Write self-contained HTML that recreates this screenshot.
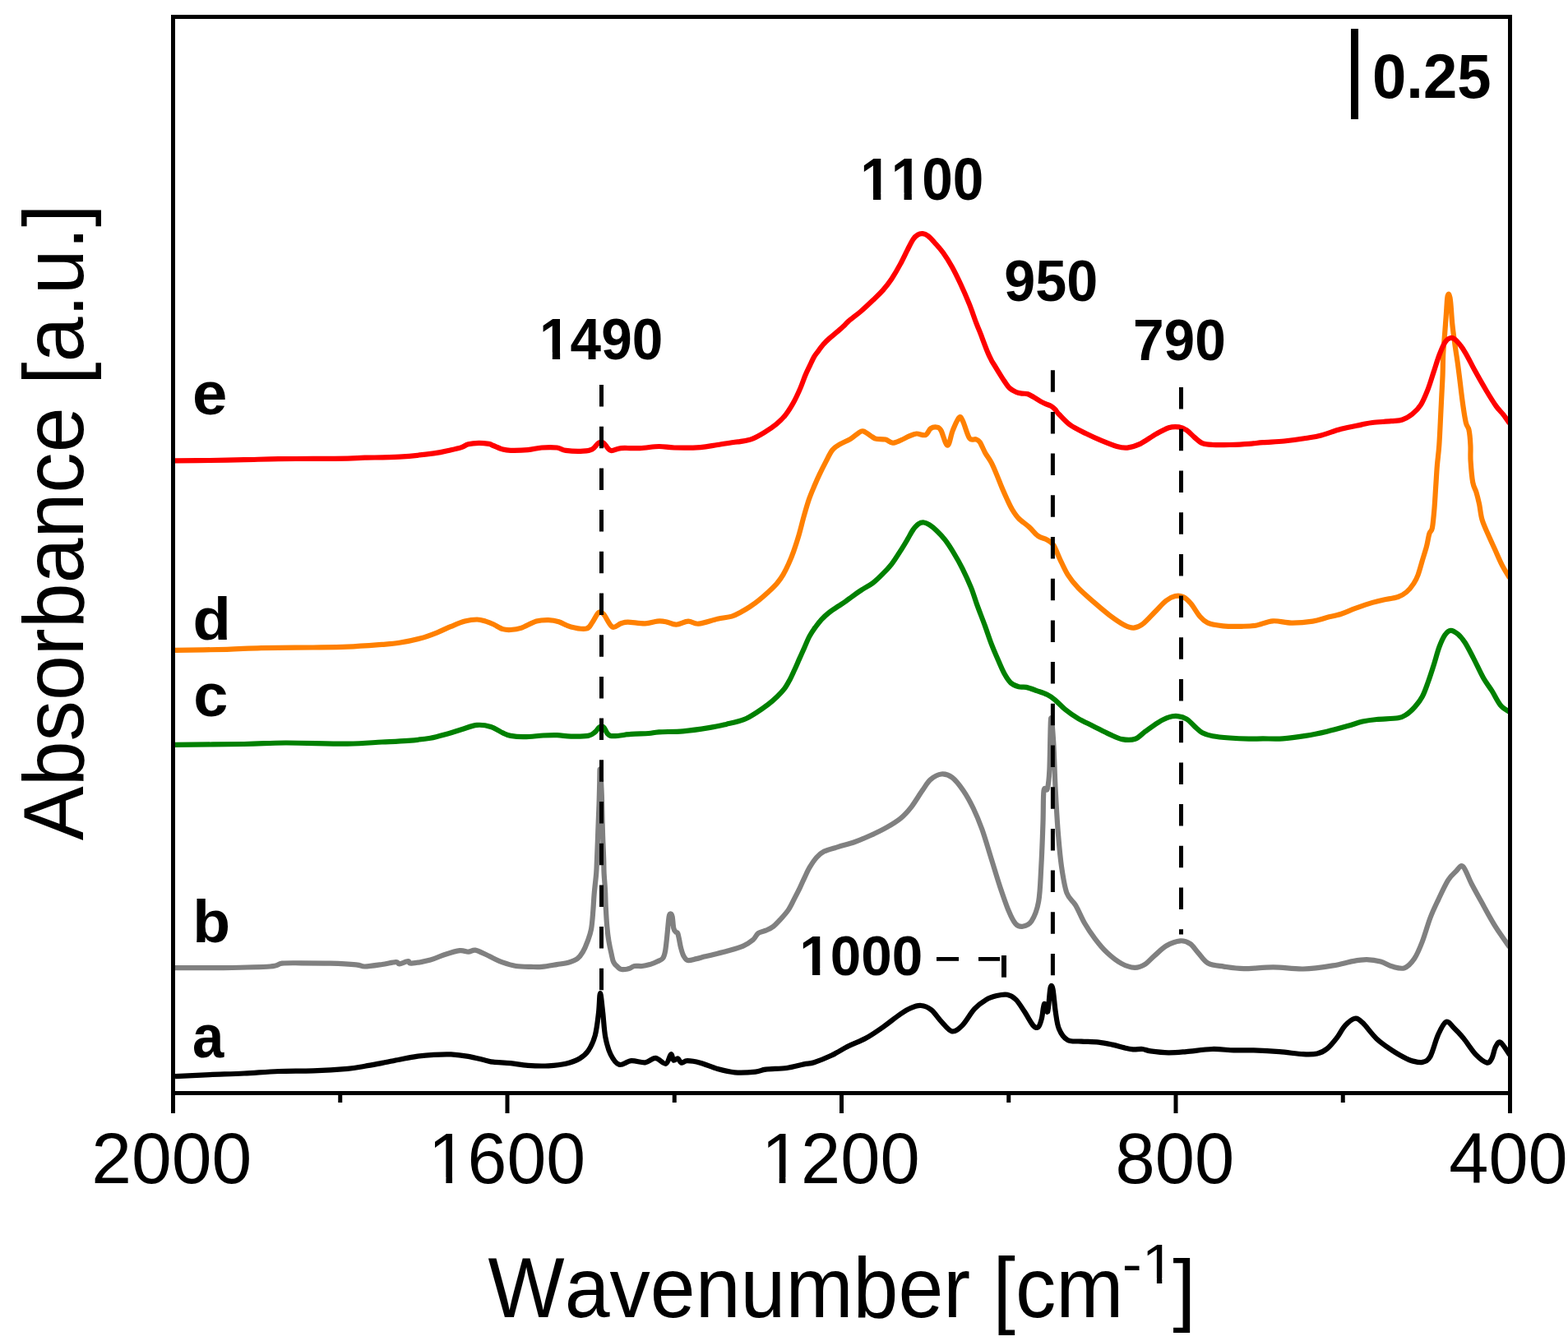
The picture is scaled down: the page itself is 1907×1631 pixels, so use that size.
<!DOCTYPE html><html><head><meta charset="utf-8"><title>Absorbance spectra</title><style>html,body{margin:0;padding:0;background:#fff;overflow:hidden}svg{display:block}text{font-family:"Liberation Sans",Arial,sans-serif;fill:#000;font-kerning:none}</style></head><body>
<svg width="1907" height="1631" viewBox="0 0 1907 1631">
<rect width="1907" height="1631" fill="#fff"/>
<defs><clipPath id="pa"><rect x="210.5" y="20.5" width="1626" height="1309"/></clipPath></defs>
<g clip-path="url(#pa)" fill="none" stroke-width="6.2" stroke-linejoin="round" stroke-linecap="butt">
<path d="M213.0,1309.2 C220.0,1308.8 241.0,1307.7 255.0,1307.1 C269.0,1306.5 282.9,1306.2 296.9,1305.5 C310.9,1304.8 324.9,1303.5 338.9,1303.0 C352.9,1302.5 366.8,1302.8 380.8,1302.3 C394.8,1301.8 412.3,1300.7 422.8,1299.8 C433.3,1298.9 436.7,1297.8 443.7,1296.7 C450.7,1295.6 457.7,1294.2 464.7,1292.9 C471.7,1291.6 478.7,1290.0 485.7,1288.7 C492.7,1287.4 499.7,1285.9 506.7,1284.9 C513.7,1283.9 520.6,1283.2 527.6,1282.8 C534.6,1282.4 541.6,1282.1 548.6,1282.4 C555.6,1282.8 562.6,1283.7 569.6,1284.9 C576.6,1286.1 585.5,1288.6 590.6,1289.7 C595.7,1290.8 594.9,1291.1 600.0,1291.7 C605.1,1292.3 614.0,1292.5 621.0,1293.2 C628.0,1293.9 634.3,1295.4 642.0,1295.9 C649.7,1296.4 659.4,1296.7 667.1,1296.3 C674.8,1295.9 681.8,1295.3 688.1,1293.8 C694.4,1292.3 700.4,1290.1 704.9,1287.5 C709.4,1284.9 712.2,1282.8 715.4,1278.1 C718.5,1273.4 721.7,1266.9 723.8,1259.2 C725.9,1251.5 727.0,1240.4 728.0,1231.9 C729.0,1223.4 729.1,1208.0 730.0,1208.0 C730.9,1208.0 732.2,1223.0 733.2,1231.9 C734.2,1240.8 734.7,1252.9 736.3,1261.3 C737.9,1269.7 739.8,1276.7 742.6,1282.3 C745.4,1287.9 748.9,1293.5 753.1,1294.8 C757.3,1296.1 762.5,1290.6 767.8,1290.2 C773.0,1289.8 779.7,1292.8 784.6,1292.3 C789.5,1291.8 793.0,1286.7 797.2,1286.9 C801.4,1287.2 806.7,1294.6 809.8,1293.8 C812.9,1293.0 814.4,1283.0 816.0,1282.3 C817.6,1281.6 817.8,1288.7 819.2,1289.6 C820.6,1290.5 822.8,1287.0 824.4,1287.5 C826.0,1288.0 826.7,1292.2 828.6,1292.7 C830.5,1293.2 832.1,1290.2 836.0,1290.2 C839.9,1290.2 845.6,1291.1 851.7,1292.7 C857.8,1294.3 865.7,1298.2 872.7,1300.1 C879.7,1302.0 886.0,1303.7 893.7,1304.3 C901.4,1304.9 912.5,1304.2 918.8,1303.6 C925.1,1303.0 925.1,1301.5 931.4,1300.7 C937.7,1299.9 948.9,1300.0 956.6,1299.0 C964.3,1298.0 972.0,1295.5 977.6,1294.4 C983.2,1293.3 984.4,1294.0 990.0,1292.2 C995.6,1290.4 1004.0,1287.1 1011.0,1283.8 C1018.0,1280.5 1025.0,1275.8 1032.0,1272.3 C1039.0,1268.8 1045.9,1266.6 1052.9,1262.8 C1059.9,1259.0 1066.9,1254.1 1073.9,1249.2 C1080.9,1244.3 1089.3,1237.3 1094.9,1233.5 C1100.5,1229.7 1103.3,1227.8 1107.5,1226.1 C1111.7,1224.3 1115.8,1222.7 1120.0,1223.0 C1124.2,1223.3 1128.4,1224.9 1132.6,1228.2 C1136.8,1231.5 1141.0,1238.5 1145.2,1242.9 C1149.4,1247.3 1153.6,1253.7 1157.8,1254.4 C1162.0,1255.1 1165.9,1251.6 1170.4,1247.1 C1175.0,1242.6 1180.2,1232.5 1185.1,1227.2 C1190.0,1222.0 1195.3,1218.3 1199.8,1215.6 C1204.3,1212.9 1208.1,1212.0 1212.3,1211.0 C1216.5,1210.0 1221.1,1209.0 1224.9,1209.8 C1228.8,1210.6 1231.9,1212.2 1235.4,1215.6 C1238.9,1219.0 1242.4,1225.0 1245.9,1230.3 C1249.4,1235.5 1253.6,1243.9 1256.4,1247.1 C1259.2,1250.2 1261.0,1250.6 1262.7,1249.2 C1264.5,1247.8 1265.7,1243.4 1266.9,1238.7 C1268.1,1234.0 1268.8,1222.3 1270.0,1220.9 C1271.2,1219.5 1273.0,1233.5 1274.2,1230.3 C1275.4,1227.1 1276.4,1206.5 1277.4,1202.0 C1278.5,1197.5 1279.5,1198.4 1280.5,1203.1 C1281.5,1207.8 1282.5,1222.3 1283.7,1230.3 C1284.9,1238.3 1285.5,1245.5 1287.9,1251.3 C1290.3,1257.1 1293.8,1262.4 1298.3,1264.9 C1302.8,1267.5 1308.8,1266.1 1315.1,1266.6 C1321.4,1267.0 1329.8,1266.9 1336.1,1267.6 C1342.4,1268.3 1347.7,1269.5 1352.9,1270.6 C1358.2,1271.7 1363.4,1273.5 1367.6,1274.4 C1371.8,1275.4 1374.3,1276.0 1378.0,1276.3 C1381.7,1276.6 1386.0,1275.7 1389.6,1276.0 C1393.1,1276.3 1394.1,1277.7 1399.3,1278.4 C1404.5,1279.1 1413.8,1280.2 1421.0,1280.3 C1428.2,1280.4 1433.9,1279.8 1442.7,1279.1 C1451.5,1278.4 1464.4,1276.3 1474.1,1276.0 C1483.8,1275.7 1492.2,1277.2 1500.6,1277.4 C1509.0,1277.6 1515.5,1277.1 1524.7,1277.4 C1534.0,1277.7 1546.0,1278.3 1556.1,1279.1 C1566.1,1279.9 1577.4,1281.8 1585.0,1282.2 C1592.6,1282.6 1597.1,1282.6 1601.9,1281.5 C1606.7,1280.4 1610.0,1278.7 1614.0,1275.5 C1618.0,1272.3 1622.4,1266.8 1626.0,1262.2 C1629.6,1257.6 1632.1,1251.6 1635.7,1247.7 C1639.3,1243.8 1644.1,1239.4 1647.7,1238.8 C1651.3,1238.2 1653.0,1240.0 1657.4,1244.1 C1661.8,1248.2 1668.3,1257.8 1674.3,1263.4 C1680.3,1269.0 1687.6,1273.9 1693.6,1277.9 C1699.6,1281.9 1706.4,1285.5 1710.4,1287.6 C1714.4,1289.7 1714.5,1289.7 1717.7,1290.4 C1720.9,1291.1 1726.1,1292.8 1729.7,1291.9 C1733.3,1291.0 1736.2,1290.6 1739.4,1285.1 C1742.6,1279.5 1745.8,1265.6 1749.0,1258.6 C1752.2,1251.6 1755.5,1244.3 1758.7,1242.9 C1761.9,1241.5 1764.7,1246.8 1768.3,1250.2 C1771.9,1253.6 1776.0,1258.0 1780.4,1263.4 C1784.8,1268.8 1790.3,1277.9 1794.9,1282.7 C1799.5,1287.5 1804.9,1291.6 1808.1,1292.4 C1811.3,1293.2 1812.4,1290.8 1814.2,1287.6 C1816.0,1284.4 1817.2,1276.4 1819.0,1273.1 C1820.8,1269.8 1822.2,1266.1 1825.0,1267.8 C1827.8,1269.5 1834.2,1280.5 1836.0,1283.0" stroke="#000"/>
<path d="M213.0,1177.1 C222.4,1177.1 250.4,1177.4 269.6,1177.1 C288.8,1176.8 316.2,1176.4 328.4,1175.5 C340.6,1174.6 336.7,1172.4 343.0,1171.7 C349.3,1171.0 356.3,1171.3 366.1,1171.3 C375.9,1171.3 390.6,1171.3 401.8,1171.7 C413.0,1172.1 426.2,1172.8 433.2,1173.4 C440.2,1174.0 438.4,1175.6 443.7,1175.5 C448.9,1175.4 458.4,1173.9 464.7,1173.0 C471.0,1172.1 478.0,1170.3 481.5,1170.2 C485.0,1170.1 483.2,1172.5 485.7,1172.3 C488.1,1172.1 493.8,1169.3 496.2,1169.2 C498.6,1169.1 495.9,1172.0 500.4,1171.7 C504.9,1171.4 516.8,1169.2 523.4,1167.5 C530.0,1165.8 534.2,1163.1 540.2,1161.2 C546.2,1159.3 554.2,1156.8 559.1,1156.2 C564.0,1155.6 566.5,1157.8 569.6,1157.7 C572.8,1157.6 574.5,1155.1 578.0,1155.6 C581.5,1156.1 586.9,1159.1 590.6,1160.8 C594.3,1162.5 596.6,1163.9 600.0,1165.5 C603.4,1167.1 606.4,1168.8 611.0,1170.4 C615.6,1172.0 621.8,1174.1 627.6,1175.0 C633.4,1175.9 640.8,1175.8 646.0,1175.9 C651.2,1176.1 653.7,1176.4 658.9,1175.9 C664.1,1175.4 671.7,1174.0 677.2,1173.1 C682.7,1172.2 687.8,1171.6 692.0,1170.4 C696.2,1169.2 699.4,1168.1 702.2,1166.0 C705.0,1163.9 706.7,1161.5 708.8,1157.9 C710.9,1154.3 713.0,1149.3 714.7,1144.6 C716.4,1139.9 718.0,1136.0 719.1,1129.9 C720.2,1123.8 720.7,1115.2 721.3,1107.8 C721.9,1100.4 722.1,1093.4 722.8,1085.8 C723.4,1078.2 724.7,1068.8 725.2,1062.0 C725.7,1055.2 725.6,1053.7 726.0,1045.2 C726.4,1036.7 726.9,1022.2 727.3,1010.8 C727.7,999.3 728.3,986.6 728.6,976.5 C728.9,966.4 729.1,956.8 729.3,950.0 C729.5,943.2 729.4,937.5 729.6,936.0 C729.8,934.5 730.3,937.0 730.6,941.0 C730.9,945.0 731.2,954.1 731.5,960.0 C731.8,965.9 731.9,968.0 732.1,976.5 C732.3,985.0 732.5,999.3 732.9,1010.8 C733.2,1022.2 733.9,1036.7 734.2,1045.2 C734.5,1053.7 734.3,1055.8 734.6,1062.0 C734.9,1068.2 735.6,1075.1 736.0,1082.1 C736.4,1089.1 736.4,1096.8 736.8,1104.2 C737.2,1111.6 737.6,1119.5 738.2,1126.2 C738.8,1132.9 739.5,1139.1 740.4,1144.6 C741.3,1150.1 742.4,1155.0 743.4,1159.3 C744.4,1163.6 744.9,1167.6 746.3,1170.4 C747.6,1173.2 749.9,1174.9 751.5,1176.3 C753.1,1177.7 753.4,1178.7 755.7,1179.0 C758.0,1179.3 762.6,1178.8 765.2,1178.1 C767.8,1177.4 768.9,1175.5 771.5,1175.0 C774.1,1174.5 777.8,1175.3 780.9,1175.0 C784.0,1174.7 787.1,1174.0 790.3,1173.1 C793.4,1172.1 797.2,1170.6 799.8,1169.3 C802.4,1168.0 804.5,1167.7 806.1,1165.5 C807.7,1163.3 808.3,1161.3 809.2,1156.1 C810.1,1150.9 811.0,1140.9 811.7,1134.1 C812.4,1127.3 813.0,1119.0 813.6,1115.2 C814.2,1111.4 814.8,1111.4 815.5,1111.4 C816.2,1111.4 817.1,1112.3 817.7,1115.2 C818.3,1118.1 818.6,1126.0 819.3,1129.0 C820.0,1132.0 821.0,1132.4 821.8,1133.4 C822.6,1134.5 823.6,1133.6 824.3,1135.3 C825.0,1137.0 825.6,1140.6 826.2,1143.5 C826.8,1146.4 827.2,1149.8 828.1,1152.9 C829.0,1156.1 829.9,1159.9 831.3,1162.4 C832.7,1164.9 833.7,1167.4 836.3,1168.0 C838.9,1168.6 843.6,1166.8 847.0,1166.1 C850.4,1165.4 853.1,1164.4 856.4,1163.6 C859.7,1162.8 861.9,1162.4 866.7,1161.2 C871.5,1160.0 878.9,1158.4 885.1,1156.6 C891.3,1154.8 898.7,1152.8 903.8,1150.6 C908.9,1148.4 912.6,1145.8 915.7,1143.2 C918.8,1140.6 919.6,1136.8 922.2,1134.9 C924.8,1133.0 928.3,1133.1 931.4,1131.7 C934.5,1130.3 937.5,1129.1 940.6,1126.7 C943.7,1124.3 946.7,1120.9 949.8,1117.5 C952.9,1114.1 956.2,1110.6 959.0,1106.4 C961.8,1102.2 964.0,1097.0 966.3,1092.6 C968.6,1088.2 970.8,1083.9 972.8,1079.8 C974.8,1075.7 976.3,1071.9 978.3,1067.8 C980.3,1063.7 982.2,1059.0 984.7,1054.9 C987.2,1050.8 990.1,1046.2 993.0,1043.0 C995.9,1039.8 997.9,1037.8 1002.2,1035.6 C1006.6,1033.4 1013.0,1032.0 1019.1,1030.1 C1025.2,1028.2 1032.4,1026.6 1039.0,1024.3 C1045.6,1021.9 1052.3,1019.0 1058.9,1016.0 C1065.5,1013.0 1072.6,1009.6 1078.7,1006.1 C1084.8,1002.6 1090.3,999.4 1095.3,995.3 C1100.3,991.2 1104.1,986.9 1108.5,981.3 C1112.9,975.6 1117.9,966.9 1121.8,961.4 C1125.7,955.9 1127.8,951.4 1131.7,948.1 C1135.6,944.8 1140.6,941.9 1145.0,941.5 C1149.4,941.1 1153.8,942.4 1158.2,945.7 C1162.6,949.0 1167.2,955.2 1171.5,961.4 C1175.8,967.6 1179.9,975.1 1183.7,983.0 C1187.5,990.9 1190.8,998.8 1194.4,1008.8 C1198.0,1018.8 1201.6,1031.6 1205.2,1043.1 C1208.8,1054.5 1212.3,1066.8 1215.9,1077.5 C1219.5,1088.2 1223.4,1099.8 1226.6,1107.5 C1229.8,1115.2 1232.3,1120.4 1235.2,1123.6 C1238.1,1126.8 1240.6,1127.3 1243.8,1126.8 C1247.0,1126.3 1251.3,1125.4 1254.5,1120.4 C1257.7,1115.4 1261.1,1107.9 1263.1,1096.8 C1265.1,1085.7 1265.4,1070.0 1266.3,1053.9 C1267.2,1037.8 1268.0,1015.6 1268.5,1000.2 C1269.0,984.8 1268.6,968.4 1269.5,961.6 C1270.4,954.8 1272.6,963.7 1273.8,959.4 C1275.0,955.1 1275.7,950.0 1276.4,935.8 C1277.1,921.6 1277.3,879.4 1278.1,874.0 C1278.9,868.6 1280.4,889.7 1281.3,903.6 C1282.2,917.5 1282.6,939.4 1283.5,957.3 C1284.4,975.2 1285.5,994.8 1286.7,1010.9 C1288.0,1027.0 1289.2,1041.4 1291.0,1053.9 C1292.8,1066.4 1294.5,1078.1 1297.4,1086.0 C1300.3,1093.9 1304.6,1095.0 1308.2,1101.1 C1311.8,1107.2 1315.0,1115.7 1318.9,1122.5 C1322.8,1129.3 1327.2,1135.7 1331.8,1141.8 C1336.4,1147.9 1341.4,1154.0 1346.8,1159.0 C1352.2,1164.0 1358.4,1168.9 1363.9,1171.9 C1369.4,1174.9 1375.3,1176.7 1380.0,1176.9 C1384.7,1177.1 1388.1,1175.6 1392.1,1173.2 C1396.1,1170.8 1399.7,1166.2 1404.1,1162.4 C1408.5,1158.6 1413.4,1153.3 1418.6,1150.3 C1423.8,1147.3 1430.7,1144.7 1435.5,1144.3 C1440.3,1143.9 1443.9,1145.5 1447.5,1147.9 C1451.1,1150.3 1453.6,1154.9 1457.2,1158.8 C1460.8,1162.7 1464.0,1168.7 1469.2,1171.5 C1474.4,1174.3 1481.2,1174.5 1488.5,1175.6 C1495.8,1176.7 1502.7,1178.0 1512.7,1178.1 C1522.8,1178.2 1536.8,1176.3 1548.8,1176.4 C1560.8,1176.5 1572.9,1178.8 1585.0,1178.5 C1597.1,1178.2 1611.2,1176.0 1621.2,1174.4 C1631.2,1172.8 1638.5,1170.3 1645.3,1169.1 C1652.1,1167.9 1656.6,1167.1 1662.2,1167.2 C1667.8,1167.3 1673.9,1168.2 1679.1,1169.6 C1684.3,1171.0 1688.8,1174.3 1693.6,1175.6 C1698.4,1176.9 1703.6,1178.9 1708.0,1177.3 C1712.4,1175.7 1716.5,1171.3 1720.1,1166.0 C1723.7,1160.7 1726.5,1153.8 1729.7,1145.5 C1732.9,1137.2 1736.2,1125.0 1739.4,1116.5 C1742.6,1108.0 1745.4,1102.4 1749.0,1094.8 C1752.6,1087.2 1757.5,1076.5 1761.1,1070.7 C1764.7,1064.9 1767.7,1062.6 1770.7,1059.8 C1773.7,1057.0 1776.0,1051.2 1779.2,1053.8 C1782.4,1056.4 1785.8,1067.5 1790.0,1075.5 C1794.2,1083.5 1799.7,1093.3 1804.5,1102.0 C1809.3,1110.7 1813.8,1119.1 1819.0,1127.4 C1824.2,1135.7 1833.2,1147.9 1836.0,1152.0" stroke="#808080"/>
<path d="M213.0,905.8 C227.0,905.7 274.5,905.4 296.9,905.0 C319.3,904.6 326.2,903.6 347.2,903.5 C368.2,903.4 403.2,904.8 422.8,904.6 C442.4,904.4 452.5,903.1 464.7,902.5 C476.9,901.9 486.4,901.6 496.2,900.8 C506.0,900.0 515.4,899.1 523.4,897.7 C531.4,896.3 538.1,894.1 544.4,892.4 C550.7,890.6 555.2,889.0 561.2,887.2 C567.2,885.5 574.2,882.4 580.1,881.9 C586.0,881.4 591.7,882.4 596.9,884.0 C602.1,885.6 607.5,889.6 611.5,891.4 C615.5,893.2 616.6,894.1 621.0,894.9 C625.4,895.7 631.2,896.3 637.8,896.2 C644.4,896.1 654.2,894.9 660.8,894.5 C667.4,894.1 672.0,893.9 677.6,894.1 C683.2,894.3 688.1,895.5 694.4,895.6 C700.7,895.7 710.5,895.8 715.4,894.9 C720.3,894.0 721.5,892.0 723.8,890.3 C726.1,888.5 727.3,885.4 729.0,884.4 C730.7,883.4 731.9,882.6 734.2,884.4 C736.5,886.1 737.0,893.5 742.6,894.9 C748.2,896.3 760.1,893.3 767.8,892.8 C775.5,892.3 783.2,892.4 788.8,892.0 C794.4,891.6 794.4,890.8 801.4,890.3 C808.4,889.8 820.6,890.2 830.7,889.3 C840.8,888.4 853.5,886.5 862.2,885.1 C871.0,883.7 876.1,882.5 883.2,880.9 C890.3,879.2 898.7,877.5 904.7,875.2 C910.7,872.9 914.5,870.2 919.4,867.1 C924.3,864.0 929.9,860.1 934.2,856.8 C938.5,853.5 941.9,850.5 945.2,847.3 C948.5,844.1 951.4,841.1 954.0,837.7 C956.6,834.3 958.5,830.6 960.6,826.7 C962.7,822.8 964.5,818.5 966.5,814.2 C968.5,809.9 970.4,805.3 972.4,800.9 C974.4,796.5 976.3,792.2 978.3,787.7 C980.3,783.2 982.3,778.0 984.5,773.9 C986.7,769.8 988.9,766.6 991.4,763.2 C993.9,759.8 996.3,756.4 999.2,753.3 C1002.1,750.2 1005.7,747.1 1009.0,744.5 C1012.3,741.9 1015.6,739.9 1018.9,737.7 C1022.2,735.5 1025.8,733.3 1028.7,731.3 C1031.6,729.2 1033.3,727.7 1036.5,725.4 C1039.7,723.1 1043.6,720.3 1047.7,717.6 C1051.8,714.9 1056.9,712.5 1061.3,709.2 C1065.7,705.9 1070.1,701.5 1073.9,697.6 C1077.8,693.8 1080.9,690.6 1084.4,686.1 C1087.9,681.6 1091.8,675.3 1094.9,670.4 C1098.1,665.5 1100.7,661.1 1103.3,656.7 C1105.9,652.3 1108.3,647.3 1110.6,644.1 C1112.9,640.9 1114.7,638.7 1116.9,637.3 C1119.1,635.9 1121.4,635.3 1123.7,635.5 C1126.0,635.7 1128.0,636.8 1130.5,638.4 C1133.0,640.0 1135.8,642.2 1138.9,645.2 C1142.1,648.2 1145.9,652.2 1149.4,656.7 C1152.9,661.2 1156.4,666.7 1159.9,672.5 C1163.4,678.3 1166.9,684.3 1170.4,691.3 C1173.9,698.3 1177.9,707.0 1180.9,714.4 C1183.9,721.8 1185.4,727.6 1188.2,735.4 C1191.0,743.2 1195.1,753.4 1198.0,761.4 C1200.9,769.4 1203.2,776.6 1205.8,783.4 C1208.4,790.2 1211.1,796.3 1213.7,802.3 C1216.3,808.3 1219.0,814.9 1221.6,819.6 C1224.2,824.3 1226.5,828.0 1229.4,830.6 C1232.3,833.2 1235.8,834.4 1238.9,835.3 C1242.1,836.2 1244.6,835.1 1248.3,835.9 C1252.0,836.7 1256.7,838.6 1260.9,840.1 C1265.1,841.6 1269.8,843.0 1273.5,844.8 C1277.2,846.6 1279.2,848.1 1282.9,851.1 C1286.6,854.1 1290.8,859.1 1295.5,862.9 C1300.2,866.7 1305.4,870.5 1311.2,873.9 C1317.0,877.3 1323.8,880.2 1330.1,883.4 C1336.4,886.5 1343.2,890.2 1349.0,892.8 C1354.8,895.4 1359.5,898.1 1364.7,899.1 C1370.0,900.1 1375.8,900.4 1380.5,898.8 C1385.2,897.2 1388.3,893.0 1393.0,889.6 C1397.7,886.2 1404.1,881.5 1408.8,878.6 C1413.5,875.7 1417.5,873.6 1421.4,872.4 C1425.3,871.1 1428.7,870.7 1432.4,871.1 C1436.1,871.5 1440.0,872.7 1443.4,874.7 C1446.8,876.8 1449.7,880.6 1452.8,883.4 C1455.9,886.1 1458.6,889.2 1462.3,891.2 C1466.0,893.2 1469.3,894.2 1474.8,895.2 C1480.3,896.2 1487.9,896.9 1495.3,897.5 C1502.7,898.1 1512.1,898.5 1518.9,898.6 C1525.7,898.8 1529.1,898.4 1536.0,898.4 C1542.9,898.4 1551.5,899.0 1560.2,898.4 C1568.9,897.8 1579.0,896.3 1587.9,894.9 C1596.8,893.5 1605.2,891.7 1613.8,889.7 C1622.4,887.7 1632.6,884.8 1639.8,882.8 C1647.0,880.8 1651.3,878.9 1657.1,877.6 C1662.9,876.3 1667.2,875.7 1674.4,875.0 C1681.6,874.3 1694.2,874.3 1700.3,873.3 C1706.3,872.3 1707.2,871.2 1710.7,868.9 C1714.2,866.6 1717.9,863.0 1721.1,859.4 C1724.3,855.8 1727.2,852.2 1729.8,847.3 C1732.4,842.4 1734.4,836.4 1736.7,830.0 C1739.0,823.6 1741.3,816.4 1743.6,809.2 C1745.9,802.0 1748.2,792.9 1750.5,786.7 C1752.8,780.5 1755.2,775.3 1757.5,772.0 C1759.8,768.7 1761.8,766.9 1764.4,766.8 C1767.0,766.7 1770.1,768.8 1773.0,771.2 C1775.9,773.7 1778.5,776.6 1781.7,781.5 C1784.9,786.4 1788.3,793.4 1792.1,800.6 C1795.8,807.8 1800.5,818.2 1804.2,824.8 C1808.0,831.4 1811.1,834.9 1814.6,840.4 C1818.0,845.9 1821.3,853.4 1824.9,857.7 C1828.5,862.0 1834.2,864.6 1836.0,866.0" stroke="#008000"/>
<path d="M213.0,790.9 C223.5,790.7 258.4,790.3 275.9,789.8 C293.4,789.3 300.4,788.5 317.9,788.1 C335.4,787.7 363.3,787.7 380.8,787.5 C398.3,787.3 408.8,787.3 422.8,786.7 C436.8,786.1 454.2,784.7 464.7,783.9 C475.2,783.1 478.0,783.0 485.7,781.8 C493.4,780.6 503.1,778.7 510.8,776.6 C518.5,774.5 525.5,771.8 531.8,769.3 C538.1,766.8 543.0,764.2 548.6,761.9 C554.2,759.6 560.1,757.0 565.4,755.6 C570.6,754.2 575.9,753.5 580.1,753.5 C584.3,753.5 587.3,754.6 590.6,755.6 C593.9,756.6 596.5,757.7 600.0,759.3 C603.5,760.9 608.0,764.0 611.5,765.1 C615.0,766.2 617.3,766.2 621.0,766.0 C624.7,765.8 628.4,765.6 633.6,763.9 C638.8,762.2 646.8,757.2 652.4,755.6 C658.0,754.0 662.5,754.0 667.1,754.1 C671.7,754.2 675.2,754.8 679.7,756.2 C684.2,757.6 688.8,761.1 694.4,762.5 C700.0,763.9 708.9,765.6 713.3,764.6 C717.7,763.6 718.1,759.9 720.6,756.6 C723.1,753.4 725.7,746.7 728.0,745.1 C730.3,743.5 731.4,744.3 734.2,747.2 C737.0,750.1 741.2,760.6 744.7,762.5 C748.2,764.4 752.1,759.3 755.2,758.3 C758.4,757.3 758.7,756.6 763.6,756.6 C768.5,756.6 778.7,758.5 784.6,758.3 C790.5,758.1 795.1,756.0 799.3,755.6 C803.5,755.2 806.0,755.5 809.8,756.2 C813.6,756.9 817.8,759.8 822.3,759.7 C826.8,759.6 832.5,755.8 837.0,755.6 C841.5,755.4 843.6,759.2 849.6,758.7 C855.6,758.2 866.0,754.3 872.7,752.8 C879.4,751.3 885.3,751.0 890.0,749.6 C894.7,748.2 897.3,746.5 901.0,744.5 C904.7,742.5 908.4,740.4 912.1,737.9 C915.8,735.4 919.4,732.8 923.1,729.8 C926.8,726.8 930.5,723.6 934.2,720.2 C937.9,716.8 942.2,712.8 945.2,709.2 C948.2,705.7 950.2,702.8 952.5,698.9 C954.8,695.0 957.1,690.3 959.2,685.6 C961.3,680.9 963.1,676.6 965.1,670.9 C967.1,665.1 969.4,658.3 971.5,651.1 C973.6,643.9 975.7,634.9 977.8,627.5 C979.9,620.1 981.9,613.0 984.0,607.0 C986.1,601.0 988.2,596.3 990.3,591.3 C992.4,586.3 994.2,582.1 996.6,577.1 C999.0,572.1 1001.9,566.4 1004.5,561.4 C1007.1,556.4 1009.5,550.8 1012.4,547.2 C1015.3,543.7 1018.1,542.3 1021.8,540.1 C1025.5,537.9 1030.7,536.0 1034.4,533.8 C1038.1,531.6 1041.2,528.4 1043.8,526.8 C1046.4,525.2 1047.2,523.6 1050.1,524.4 C1053.0,525.2 1058.5,529.9 1061.1,531.5 C1063.7,533.1 1063.2,533.3 1065.8,533.8 C1068.4,534.3 1073.6,533.8 1076.9,534.6 C1080.2,535.4 1082.4,538.5 1085.5,538.6 C1088.6,538.7 1092.4,536.7 1095.7,535.4 C1099.0,534.1 1102.1,532.0 1105.2,530.7 C1108.3,529.4 1111.2,527.8 1114.6,527.5 C1118.0,527.2 1122.7,530.1 1125.6,529.1 C1128.5,528.1 1129.5,522.8 1131.9,521.2 C1134.3,519.6 1137.7,519.3 1139.8,519.7 C1141.9,520.1 1142.4,519.9 1144.5,523.6 C1146.6,527.3 1150.0,541.7 1152.4,541.7 C1154.8,541.7 1156.4,529.2 1158.7,523.6 C1161.0,518.0 1164.4,509.7 1166.5,507.9 C1168.6,506.1 1169.1,508.4 1171.2,512.6 C1173.3,516.8 1176.5,529.4 1179.1,533.0 C1181.7,536.6 1184.9,533.5 1187.0,534.3 C1189.1,535.1 1189.9,535.1 1191.7,537.8 C1193.5,540.5 1195.7,546.2 1198.0,550.4 C1200.3,554.6 1203.5,558.4 1205.8,562.9 C1208.1,567.4 1210.0,572.1 1212.1,577.1 C1214.2,582.1 1216.3,587.8 1218.4,592.8 C1220.5,597.8 1222.6,602.5 1224.7,607.0 C1226.8,611.5 1228.6,615.7 1231.0,619.6 C1233.4,623.5 1235.5,627.0 1238.9,630.5 C1242.3,634.0 1247.6,637.3 1251.5,640.9 C1255.4,644.5 1258.8,649.3 1262.5,651.9 C1266.2,654.5 1270.4,654.8 1273.5,656.6 C1276.6,658.4 1278.7,659.0 1281.3,662.9 C1283.9,666.8 1286.3,674.3 1289.2,680.3 C1292.1,686.3 1295.0,693.3 1298.7,699.1 C1302.4,704.9 1306.0,709.4 1311.2,714.9 C1316.4,720.4 1323.8,726.7 1330.1,732.2 C1336.4,737.7 1342.7,743.2 1349.0,747.9 C1355.3,752.6 1362.9,757.9 1367.9,760.5 C1372.9,763.1 1375.2,763.9 1378.9,763.6 C1382.6,763.3 1385.5,762.3 1389.9,758.9 C1394.4,755.5 1400.9,747.9 1405.6,743.2 C1410.3,738.5 1414.3,733.6 1418.2,730.6 C1422.1,727.6 1425.8,725.9 1429.2,725.1 C1432.6,724.3 1435.6,724.5 1438.7,725.9 C1441.8,727.3 1444.7,729.9 1448.1,733.8 C1451.5,737.7 1455.7,745.6 1459.1,749.5 C1462.5,753.4 1463.8,755.4 1468.5,757.4 C1473.2,759.4 1480.5,760.6 1487.4,761.3 C1494.3,762.0 1503.3,761.9 1510.0,761.8 C1516.7,761.7 1521.0,761.8 1527.3,760.7 C1533.6,759.6 1540.9,755.8 1548.1,755.3 C1555.3,754.8 1562.5,757.5 1570.6,757.6 C1578.7,757.7 1589.3,756.7 1596.5,755.6 C1603.7,754.5 1608.0,752.6 1613.8,751.1 C1619.6,749.6 1625.3,748.7 1631.1,746.8 C1636.9,744.9 1642.1,742.2 1648.4,739.9 C1654.8,737.6 1663.4,734.6 1669.2,732.9 C1675.0,731.2 1677.8,730.6 1683.0,729.5 C1688.2,728.4 1695.7,727.6 1700.3,726.0 C1704.9,724.4 1707.5,722.7 1710.7,720.0 C1713.9,717.3 1717.1,713.1 1719.4,709.6 C1721.7,706.1 1722.9,703.8 1724.6,699.2 C1726.3,694.6 1728.1,687.7 1729.8,681.9 C1731.5,676.1 1733.6,670.1 1735.0,664.6 C1736.4,659.1 1737.2,652.8 1738.4,649.0 C1739.6,645.2 1740.9,647.3 1741.9,642.1 C1742.9,636.9 1743.8,626.3 1744.5,617.9 C1745.2,609.5 1745.6,600.5 1746.2,591.9 C1746.8,583.2 1747.2,574.4 1747.9,566.0 C1748.6,557.6 1749.6,551.5 1750.3,541.3 C1751.0,531.0 1751.7,514.7 1752.2,504.5 C1752.7,494.3 1753.0,488.2 1753.4,480.0 C1753.8,471.8 1754.3,463.6 1754.6,455.4 C1754.9,447.2 1754.8,439.1 1755.2,430.9 C1755.6,422.7 1756.5,414.5 1757.1,406.3 C1757.7,398.1 1758.4,389.2 1758.9,381.8 C1759.4,374.4 1759.8,366.1 1760.3,362.0 C1760.8,357.9 1761.5,357.5 1762.0,357.5 C1762.5,357.5 1763.1,360.0 1763.5,362.0 C1763.9,364.0 1763.9,364.1 1764.4,369.5 C1764.9,374.9 1765.5,385.9 1766.3,394.1 C1767.1,402.3 1768.3,410.4 1769.4,418.6 C1770.5,426.8 1771.9,435.0 1773.0,443.2 C1774.1,451.4 1775.1,459.5 1776.1,467.7 C1777.1,475.9 1778.1,484.4 1779.2,492.2 C1780.3,500.0 1781.7,509.2 1782.9,514.3 C1784.1,519.4 1785.6,518.4 1786.5,522.9 C1787.4,527.4 1788.1,535.0 1788.4,541.3 C1788.8,547.6 1788.1,553.2 1788.6,560.8 C1789.1,568.4 1790.0,580.4 1791.2,586.7 C1792.4,593.0 1794.2,594.5 1795.5,598.8 C1796.8,603.1 1797.8,607.2 1799.0,612.7 C1800.2,618.2 1800.7,625.7 1802.4,631.7 C1804.1,637.8 1806.8,643.0 1809.4,649.0 C1812.0,655.0 1815.1,661.6 1818.0,668.0 C1820.9,674.4 1823.7,681.3 1826.7,687.1 C1829.7,692.9 1834.5,700.4 1836.0,703.0" stroke="#FF8000"/>
<path d="M213.0,560.3 C220.0,560.2 241.0,560.2 255.0,560.0 C269.0,559.8 282.9,559.5 296.9,559.2 C310.9,558.9 324.9,558.4 338.9,558.2 C352.9,558.0 366.8,558.0 380.8,557.9 C394.8,557.8 412.3,557.9 422.8,557.7 C433.3,557.5 433.2,557.1 443.7,556.7 C454.2,556.4 471.7,556.5 485.7,555.6 C499.7,554.7 517.1,552.8 527.6,551.4 C538.1,550.0 543.0,548.4 548.6,547.2 C554.2,546.0 557.7,545.2 561.2,544.1 C564.7,543.0 566.1,541.2 569.6,540.3 C573.1,539.4 578.0,538.9 582.2,538.8 C586.4,538.7 591.7,539.4 594.7,539.9 C597.7,540.4 597.2,540.9 600.0,542.0 C602.8,543.1 608.0,545.6 611.5,546.6 C615.0,547.6 615.9,547.8 621.0,547.9 C626.1,548.0 635.7,547.8 642.0,547.2 C648.3,546.6 652.8,545.0 658.7,544.5 C664.6,544.0 672.7,543.9 677.6,544.5 C682.5,545.1 682.9,547.2 688.1,547.9 C693.4,548.6 703.7,549.0 709.1,548.7 C714.5,548.4 717.5,547.9 720.6,546.2 C723.8,544.6 725.7,540.0 728.0,538.8 C730.3,537.6 731.8,537.3 734.2,538.8 C736.6,540.3 739.1,546.8 742.6,547.9 C746.1,549.0 749.2,545.6 755.2,545.1 C761.2,544.6 770.6,545.5 778.3,545.1 C786.0,544.8 794.4,543.1 801.4,543.0 C808.4,542.9 811.8,544.3 820.2,544.5 C828.6,544.7 843.0,544.7 851.7,544.1 C860.5,543.5 865.7,542.0 872.7,541.0 C879.7,540.0 889.2,538.4 893.7,537.8 C898.2,537.1 896.5,537.8 900.0,537.1 C903.5,536.4 909.8,535.6 914.7,533.8 C919.6,532.0 924.5,529.1 929.4,526.1 C934.3,523.1 939.9,519.3 944.2,515.8 C948.5,512.2 951.8,509.1 955.2,504.8 C958.6,500.5 961.7,495.5 964.8,490.0 C967.9,484.5 971.2,477.2 973.6,471.6 C976.0,466.0 977.5,461.1 979.4,456.5 C981.3,451.9 983.5,447.6 985.3,443.8 C987.1,440.0 988.6,436.7 990.2,433.9 C991.8,431.1 993.3,429.6 995.1,427.1 C996.9,424.7 998.7,421.8 1001.0,419.2 C1003.3,416.6 1005.9,414.1 1008.9,411.4 C1011.9,408.7 1015.8,405.6 1018.7,403.1 C1021.6,400.6 1024.3,398.3 1026.5,396.2 C1028.7,394.1 1028.5,393.6 1032.0,390.6 C1035.5,387.6 1042.5,382.5 1047.7,378.0 C1052.9,373.5 1059.0,367.6 1063.4,363.4 C1067.8,359.2 1070.4,356.9 1073.9,352.9 C1077.4,348.9 1080.9,344.4 1084.4,339.2 C1087.9,333.9 1091.8,327.2 1094.9,321.4 C1098.1,315.6 1100.7,309.7 1103.3,304.6 C1105.9,299.5 1108.5,294.1 1110.6,291.0 C1112.7,287.9 1114.0,286.8 1115.9,285.7 C1117.8,284.6 1120.0,284.0 1122.1,284.2 C1124.2,284.4 1126.0,285.0 1128.4,286.8 C1130.9,288.6 1133.7,291.7 1136.8,295.2 C1139.9,298.7 1143.8,302.9 1147.3,307.8 C1150.8,312.7 1154.3,318.2 1157.8,324.5 C1161.3,330.8 1164.8,338.0 1168.3,345.5 C1171.8,353.0 1175.6,361.8 1178.8,369.7 C1182.0,377.6 1185.0,387.0 1187.2,392.7 C1189.4,398.4 1189.4,397.8 1191.7,403.7 C1194.0,409.6 1198.6,422.2 1201.0,428.0 C1203.4,433.8 1204.2,435.1 1205.9,438.4 C1207.7,441.7 1209.8,444.7 1211.5,447.6 C1213.2,450.5 1214.7,452.9 1216.4,455.6 C1218.1,458.4 1220.0,461.4 1221.9,464.1 C1223.8,466.9 1225.7,470.0 1228.0,472.1 C1230.3,474.2 1233.5,475.9 1236.0,477.0 C1238.5,478.1 1241.0,478.2 1243.3,478.6 C1245.6,479.0 1247.8,478.4 1250.1,479.2 C1252.4,480.0 1254.9,481.7 1257.4,483.2 C1260.0,484.7 1263.1,486.8 1265.4,488.1 C1267.8,489.4 1269.3,490.1 1271.5,491.1 C1273.7,492.1 1276.3,492.8 1278.3,493.9 C1280.2,495.0 1281.6,496.2 1283.2,497.9 C1284.8,499.6 1285.0,500.8 1288.1,504.0 C1291.2,507.2 1296.4,513.2 1301.8,517.1 C1307.2,521.0 1314.4,524.2 1320.7,527.3 C1327.0,530.4 1333.3,533.3 1339.6,535.9 C1345.9,538.5 1353.2,541.5 1358.4,543.0 C1363.6,544.5 1366.3,545.1 1371.0,544.6 C1375.7,544.1 1380.9,542.6 1386.7,539.9 C1392.5,537.1 1399.8,531.4 1405.6,528.1 C1411.4,524.8 1416.7,521.7 1421.4,520.2 C1426.1,518.8 1430.2,518.9 1433.9,519.4 C1437.6,519.9 1440.2,521.3 1443.4,523.4 C1446.6,525.5 1449.7,529.4 1452.8,532.0 C1455.9,534.6 1458.6,537.6 1462.3,539.1 C1466.0,540.6 1469.3,540.7 1474.8,541.0 C1480.3,541.3 1487.9,541.2 1495.3,541.0 C1502.7,540.8 1512.1,540.4 1518.9,539.9 C1525.7,539.4 1528.8,538.8 1536.0,538.2 C1543.2,537.6 1553.2,537.4 1561.9,536.5 C1570.6,535.6 1580.4,534.2 1587.9,533.0 C1595.4,531.8 1599.7,531.4 1606.9,529.5 C1614.1,527.6 1623.0,523.9 1631.1,521.8 C1639.2,519.6 1649.1,517.9 1655.4,516.6 C1661.8,515.3 1663.2,514.7 1669.2,514.0 C1675.2,513.3 1685.7,512.8 1691.7,512.2 C1697.8,511.6 1701.2,511.9 1705.5,510.5 C1709.8,509.1 1713.8,506.6 1717.6,503.6 C1721.3,500.6 1724.8,497.4 1728.0,492.3 C1731.2,487.2 1734.1,479.9 1736.7,473.3 C1739.3,466.7 1741.3,459.4 1743.6,452.5 C1745.9,445.6 1748.2,437.8 1750.5,431.7 C1752.8,425.6 1755.2,419.6 1757.5,416.2 C1759.8,412.8 1762.1,411.3 1764.4,411.0 C1766.7,410.7 1768.4,411.5 1771.3,414.4 C1774.2,417.3 1778.0,422.2 1781.7,428.3 C1785.5,434.4 1789.5,443.0 1793.8,450.8 C1798.1,458.6 1803.3,467.8 1807.6,475.0 C1811.9,482.2 1816.2,489.2 1819.7,494.1 C1823.2,499.0 1825.7,500.9 1828.4,504.4 C1831.1,507.9 1834.7,513.2 1836.0,515.0" stroke="#FF0000"/>
</g>
<g stroke="#000" stroke-width="5" stroke-dasharray="26.5 24.2" fill="none"><line x1="731.5" y1="468.0" x2="731.5" y2="1205.0"/><line x1="1280.4" y1="450.2" x2="1280.4" y2="1186.3"/><line x1="1436.5" y1="471.1" x2="1436.5" y2="1136.6"/></g>
<rect x="1139" y="1164" width="27" height="4.8" fill="#000"/><rect x="1190" y="1164" width="26" height="4.8" fill="#000"/><rect x="1218" y="1162" width="6" height="26.7" fill="#000"/>
<rect x="1643" y="35" width="9" height="110" fill="#000"/>
<rect x="210.5" y="20.5" width="1626" height="1309" fill="none" stroke="#000" stroke-width="5"/>
<g stroke="#000" stroke-width="5"><line x1="210.50" y1="1330" x2="210.50" y2="1354"/><line x1="617.00" y1="1330" x2="617.00" y2="1354"/><line x1="1023.50" y1="1330" x2="1023.50" y2="1354"/><line x1="1430.00" y1="1330" x2="1430.00" y2="1354"/><line x1="1836.50" y1="1330" x2="1836.50" y2="1354"/><line x1="413.75" y1="1330" x2="413.75" y2="1341"/><line x1="820.25" y1="1330" x2="820.25" y2="1341"/><line x1="1226.75" y1="1330" x2="1226.75" y2="1341"/><line x1="1633.25" y1="1330" x2="1633.25" y2="1341"/></g>
<g transform="matrix(1.00797 0 0 1.00806 -1.715 -12.121)"><text id="t2000" x="112.00" y="1440.00" font-size="87.00" font-weight="normal">2000</text></g>
<g transform="matrix(0.98834 0 0 1.00806 4.895 -12.121)"><text id="t1600" x="522.00" y="1440.00" font-size="87.00" font-weight="normal">1600</text><rect x="526.93" y="1432.50" width="16.95" height="9.00" fill="#fff"/><rect x="551.57" y="1432.50" width="16.27" height="9.00" fill="#fff"/></g>
<g transform="matrix(0.99604 0 0 1.00806 1.618 -12.121)"><text id="t1200" x="928.00" y="1440.00" font-size="87.00" font-weight="normal">1200</text><rect x="932.93" y="1432.50" width="16.95" height="9.00" fill="#fff"/><rect x="957.57" y="1432.50" width="16.27" height="9.00" fill="#fff"/></g>
<g transform="matrix(0.99572 0 0 1.00806 6.420 -12.121)"><text id="t800" x="1356.00" y="1440.00" font-size="87.00" font-weight="normal">800</text></g>
<g transform="matrix(0.99434 0 0 1.00806 11.273 -12.121)"><text id="t400" x="1761.00" y="1440.00" font-size="87.00" font-weight="normal">400</text></g>
<g transform="matrix(0.99636 0 0 1.05495 3.764 -87.921)"><text id="xmain" x="592.00" y="1602.00" font-size="99.00" font-weight="normal">Wavenumber [cm</text></g>
<g transform="matrix(1.09182 0 0 1.03913 -124.459 -61.283)"><text id="xsup" x="1364.00" y="1561.00" font-size="66.00" font-weight="normal">-1</text><rect x="1389.71" y="1555.07" width="12.86" height="7.43" fill="#fff"/><rect x="1408.40" y="1555.07" width="12.34" height="7.43" fill="#fff"/></g>
<g transform="matrix(1.02203 0 0 0.98791 -30.096 18.507)"><text id="xclose" x="1425.00" y="1602.00" font-size="99.00" font-weight="normal">]</text></g>
<g transform="matrix(1.05714 0 0 0.99696 -5.614 1.275)"><text id="ylabel" x="100.90" y="1024.00" font-size="99.00" font-weight="normal" transform="rotate(-90 100.90 1024.00)">Absorbance [a.u.]</text></g>
<g transform="matrix(1.00395 0 0 1.01970 -6.548 -2.420)"><text id="s025" x="1669.00" y="119.00" font-size="74.00" font-weight="bold">0.25</text></g>
<g transform="matrix(0.97808 0 0 1.04094 26.146 -10.784)"><text id="l1100" x="1043.00" y="243.80" font-size="69.00" font-weight="bold">1100</text><rect x="1046.00" y="235.76" width="13.11" height="9.54" fill="#fff"/><rect x="1068.57" y="235.76" width="12.23" height="9.54" fill="#fff"/><rect x="1084.36" y="235.76" width="13.11" height="9.54" fill="#fff"/><rect x="1106.93" y="235.76" width="12.23" height="9.54" fill="#fff"/></g>
<g transform="matrix(1.00516 0 0 1.04277 -6.014 -15.250)"><text id="l950" x="1221.00" y="366.00" font-size="68.00" font-weight="bold">950</text></g>
<g transform="matrix(0.97808 0 0 1.02834 17.397 -12.666)"><text id="l1490" x="653.00" y="437.20" font-size="69.00" font-weight="bold">1490</text><rect x="656.00" y="429.16" width="13.11" height="9.54" fill="#fff"/><rect x="678.57" y="429.16" width="12.23" height="9.54" fill="#fff"/></g>
<g transform="matrix(0.99514 0 0 1.04060 6.583 -17.578)"><text id="l790" x="1378.00" y="437.90" font-size="68.00" font-weight="bold">790</text></g>
<g transform="matrix(0.97671 0 0 0.99088 25.860 11.248)"><text id="l1000" x="969.00" y="1186.00" font-size="69.00" font-weight="bold">1000</text><rect x="972.00" y="1177.96" width="13.11" height="9.54" fill="#fff"/><rect x="994.57" y="1177.96" width="12.23" height="9.54" fill="#fff"/></g>
<g transform="matrix(1.02942 0 0 1.00928 -6.985 -3.824)"><text id="le" x="234.00" y="503.00" font-size="74.00" font-weight="bold">e</text></g>
<g transform="matrix(1.02602 0 0 0.98571 -5.522 10.945)"><text id="ld" x="234.00" y="778.30" font-size="74.00" font-weight="bold">d</text></g>
<g transform="matrix(1.02357 0 0 1.01369 -5.321 -11.507)"><text id="lc" x="235.00" y="871.00" font-size="74.00" font-weight="bold">c</text></g>
<g transform="matrix(1.01463 0 0 0.97484 -4.204 28.477)"><text id="lb" x="235.00" y="1146.00" font-size="74.00" font-weight="bold">b</text></g>
<g transform="matrix(0.93138 0 0 0.99588 17.032 5.412)"><text id="la" x="233.00" y="1286.00" font-size="74.00" font-weight="bold">a</text></g>
</svg></body></html>
